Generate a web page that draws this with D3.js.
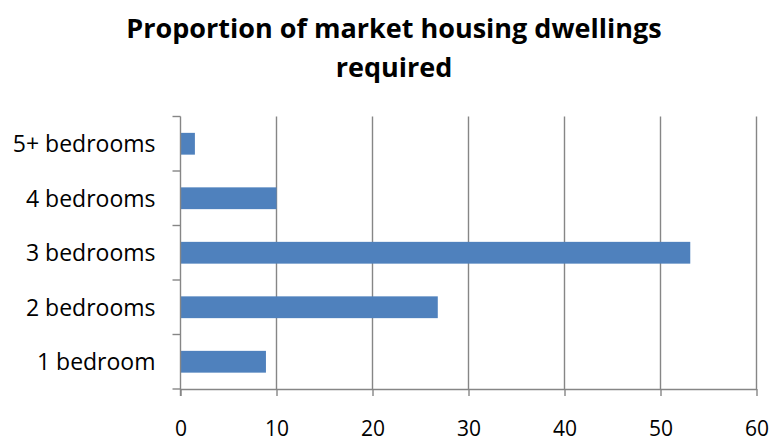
<!DOCTYPE html>
<html>
<head>
<meta charset="utf-8">
<script src="https://cdn.jsdelivr.net/npm/d3@7"></script>
<style>
  html, body { margin: 0; padding: 0; background: #fff; }
  svg { display: block; font-family: "Open Sans", sans-serif; }
</style>
</head>
<body>
<svg id="chart" width="773" height="442"></svg>
<script>
// Bedroom categories, listed top to bottom as drawn
const categories = ["5+ bedrooms", "4 bedrooms", "3 bedrooms", "2 bedrooms", "1 bedroom"];
// Share of market housing dwellings required (%)
const values = [1.5, 10.0, 53.1, 26.8, 8.9];
// Value axis ticks
const xTicks = [0, 10, 20, 30, 40, 50, 60];
const titleLines = ["Proportion of market housing dwellings", "required"];

const svg = d3.select("#chart");
const margin = { top: 116.5, right: 16.5, bottom: 53, left: 180.5 };
const width = 773 - margin.left - margin.right;
const height = 442 - margin.top - margin.bottom;

const axisColor = "#868686";
const barColor = "#4F81BD";
const labelFont = "\"Open Sans\", sans-serif";

const x = d3.scaleLinear().domain([0, 60]).range([0, width]);
const y = d3.scaleBand().domain(categories).range([0, height]).paddingInner(0.6).paddingOuter(0.3);

const g = svg.append("g").attr("transform", `translate(${margin.left},${margin.top})`);

// vertical gridlines
g.append("g")
  .selectAll("line")
  .data(xTicks.filter(d => d > 0))
  .join("line")
  .attr("x1", d => x(d)).attr("x2", d => x(d))
  .attr("y1", 0).attr("y2", height)
  .attr("stroke", axisColor).attr("stroke-width", 1.4);

// bars
g.append("g")
  .selectAll("rect")
  .data(categories.map((c, i) => ({ c, v: values[i] })))
  .join("rect")
  .attr("x", x(0))
  .attr("y", d => y(d.c))
  .attr("width", d => x(d.v) - x(0))
  .attr("height", y.bandwidth())
  .attr("fill", barColor);

// x axis
const xAxis = g.append("g")
  .attr("transform", `translate(0,${height})`)
  .call(d3.axisBottom(x).tickValues(xTicks).tickSize(7).tickSizeOuter(0).tickPadding(25));
xAxis.select(".domain").attr("stroke", axisColor).attr("stroke-width", 1.4);
xAxis.selectAll(".tick line").attr("stroke", axisColor).attr("stroke-width", 1.4);
xAxis.selectAll(".tick text")
  .attr("fill", "#000")
  .style("font-size", "21px")
  .style("font-family", labelFont);

// y axis: ticks sit on category boundaries
const yAxisG = g.append("g");
const step = height / categories.length;
const bounds = d3.range(categories.length + 1).map(i => i * step);
yAxisG.append("line")
  .attr("x1", 0).attr("x2", 0).attr("y1", 0).attr("y2", height + 7)
  .attr("stroke", axisColor).attr("stroke-width", 1.4);
yAxisG.selectAll("line.tk")
  .data(bounds)
  .join("line").attr("class", "tk")
  .attr("x1", -8).attr("x2", 0)
  .attr("y1", d => d).attr("y2", d => d)
  .attr("stroke", axisColor).attr("stroke-width", 1.4);
yAxisG.selectAll("text")
  .data(categories)
  .join("text")
  .attr("x", -25)
  .attr("y", (d, i) => (i + 0.5) * step)
  .attr("dy", "0.36em")
  .attr("text-anchor", "end")
  .style("font-size", "23px")
  .style("font-family", labelFont)
  .attr("fill", "#000")
  .text(d => d);

// title
svg.append("text")
  .attr("x", 394)
  .attr("y", 38)
  .attr("text-anchor", "middle")
  .style("font-size", "27px")
  .style("font-weight", "bold")
  .style("font-family", labelFont)
  .selectAll("tspan")
  .data(titleLines)
  .join("tspan")
  .attr("x", 394)
  .attr("dy", (d, i) => i === 0 ? 0 : 39)
  .text(d => d);
</script>
</body>
</html>
